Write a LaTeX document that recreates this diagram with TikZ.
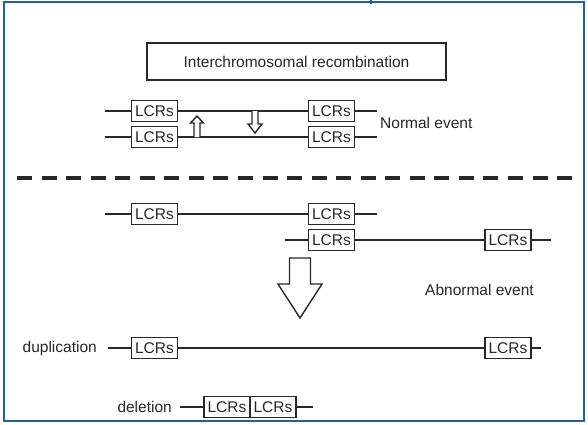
\documentclass[tikz,border=0pt]{standalone}
\usepackage{fontspec}
\setmainfont{Liberation Sans}
\definecolor{frameblue}{RGB}{31,94,170}
\definecolor{ink}{RGB}{40,40,40}
\begin{document}
\begin{tikzpicture}[x=1pt,y=-1pt,
  every node/.style={text=ink,font=\fontsize{15.5}{17}\selectfont},
  frame/.style={draw=frameblue,line width=2.5pt},
  chrom/.style={draw=ink,line width=2pt},
  lcr/.style={draw=ink,fill=white,line width=1.8pt,minimum width=46pt,minimum height=21pt,inner sep=0pt,
    font=\fontsize{15.5}{17}\selectfont},
  hollow/.style={draw=ink,fill=white,line width=1.4pt,line join=miter},
  divider/.style={draw=ink,line width=4pt,dash pattern=on 15pt off 9.55pt},
  label/.style={inner sep=0pt}]
\useasboundingbox (0,0) rectangle (588,424);
\fill[white] (0,0) rectangle (588,424);

% outer frame
\draw[frame] (4,2) rectangle (584,421);
\draw[frame] (371,0) -- (371,4);

% heading
\node[draw=ink,line width=1.8pt,minimum width=299pt,minimum height=37pt,inner sep=0pt] (title) at (296.5,61.5) {Interchromosomal recombination};

% normal event: two paired chromosomes
\node[lcr] (b11) at (154.5,111) {LCRs};
\node[lcr] (b12) at (331.5,111) {LCRs};
\node[lcr] (b21) at (154.5,137) {LCRs};
\node[lcr] (b22) at (331.5,137) {LCRs};
\coordinate (r1s) at (105,111); \coordinate (r1e) at (377,111);
\coordinate (r2s) at (105,137); \coordinate (r2e) at (377,137);
\draw[chrom] (r1s) -- (b11) -- (b12) -- (r1e);
\draw[chrom] (r2s) -- (b21) -- (b22) -- (r2e);
\node[label,anchor=west] (normal) at (380,123) {Normal event};

% exchange arrows
\draw[hollow] (194,137) -- (194,123) -- (190.5,123) -- (197,116) -- (203.5,123) -- (200,123) -- (200,137);
\draw[hollow] (252,111) -- (252,124) -- (248,124) -- (255,133) -- (262,124) -- (258,124) -- (258,111);

% separator
\coordinate (dl) at (17,178); \coordinate (dr) at (572,178);
\draw[divider] (dl) -- (dr);

% abnormal event: misaligned chromosomes
\node[lcr] (b31) at (154.5,214) {LCRs};
\node[lcr] (b32) at (331.5,214) {LCRs};
\node[lcr] (b41) at (331.5,240) {LCRs};
\node[lcr] (b42) at (508,240) {LCRs};
\coordinate (r3s) at (105,214); \coordinate (r3e) at (377,214);
\coordinate (r4s) at (285,240); \coordinate (r4e) at (551,240);
\draw[chrom] (r3s) -- (b31) -- (b32) -- (r3e);
\draw[chrom] (r4s) -- (b41) -- (b42) -- (r4e);

% large arrow
\draw[hollow] (289.5,258) -- (310.5,258) -- (310.5,284) -- (322,284) -- (300,318) -- (278,284) -- (289.5,284) -- cycle;
\node[label,anchor=west] (abnormal) at (425,290) {Abnormal event};

% products
\node[lcr] (b51) at (154.5,348) {LCRs};
\node[lcr] (b52) at (508,348) {LCRs};
\coordinate (r5s) at (108,348); \coordinate (r5e) at (541,348);
\draw[chrom] (r5s) -- (b51) -- (b52) -- (r5e);
\node[label,anchor=east] (dup) at (97,348) {duplication};

\node[lcr] (b61) at (227,407) {LCRs};
\node[lcr] (b62) at (273,407) {LCRs};
\coordinate (r6s) at (180,407); \coordinate (r6e) at (313,407);
\draw[chrom] (r6s) -- (b61);
\draw[chrom] (b62) -- (r6e);
\node[label,anchor=east] (del) at (172,407) {deletion};
\end{tikzpicture}
\end{document}
